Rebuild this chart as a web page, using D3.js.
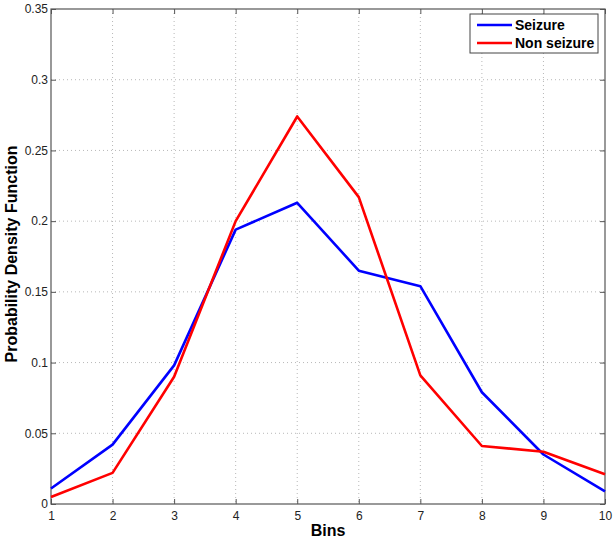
<!DOCTYPE html>
<html>
<head>
<meta charset="utf-8">
<script src="https://cdn.jsdelivr.net/npm/d3@7"></script>
<style>
body { margin: 0; background: #fff; }
text { font-family: "Liberation Sans", Arial, sans-serif; }
</style>
</head>
<body>
<div id="chart"></div>
<script>
// data
var bins = [1, 2, 3, 4, 5, 6, 7, 8, 9, 10];
var seizure = [0.011, 0.042, 0.098, 0.194, 0.213, 0.165, 0.154, 0.079, 0.035, 0.009];
var nonSeizure = [0.005, 0.022, 0.090, 0.200, 0.274, 0.217, 0.091, 0.041, 0.037, 0.021];
var yTicks = [0, 0.05, 0.1, 0.15, 0.2, 0.25, 0.3, 0.35];
var seriesNames = ["Seizure", "Non seizure"];
var seriesColors = ["#0000ff", "#ff0000"];

var svgWidth = 616, svgHeight = 541;
var margin = {top: 9, right: 11, bottom: 37, left: 51};
var chartWidth = svgWidth - margin.left - margin.right;
var chartHeight = svgHeight - margin.top - margin.bottom;

var svg = d3.select("#chart").append("svg")
  .attr("width", svgWidth)
  .attr("height", svgHeight);

var chartGroup = svg.append("g")
  .attr("transform", `translate(${margin.left}, ${margin.top})`);

var xScale = d3.scaleLinear().domain([1, 10]).range([0, chartWidth]);
var yScale = d3.scaleLinear().domain([0, 0.35]).range([chartHeight, 0]);

// grid
var grid = chartGroup.append("g").attr("stroke", "#b8b8b8").attr("stroke-dasharray", "1,3");
grid.selectAll(".vg").data(bins.slice(1, -1)).enter().append("line")
  .attr("x1", d => xScale(d)).attr("x2", d => xScale(d))
  .attr("y1", 0).attr("y2", chartHeight);
grid.selectAll(".hg").data(yTicks.slice(1, -1)).enter().append("line")
  .attr("x1", 0).attr("x2", chartWidth)
  .attr("y1", d => yScale(d)).attr("y2", d => yScale(d));

// axes with inward ticks
var axisColor = "#555";
function styleAxis(g) {
  g.select(".domain").remove();
  g.selectAll(".tick line").attr("stroke", axisColor);
  g.selectAll(".tick text").attr("fill", "#222").style("font-size", "12px").style("font-family", "Liberation Sans, Arial, sans-serif");
}
var fmt = d => d === 0 ? "0" : String(+d.toFixed(2));

chartGroup.append("g")
  .attr("transform", `translate(0, ${chartHeight})`)
  .call(d3.axisBottom(xScale).tickValues(bins).tickSize(-5).tickPadding(7).tickFormat(d3.format("d")))
  .call(styleAxis);
chartGroup.append("g")
  .call(d3.axisTop(xScale).tickValues(bins).tickSize(-5).tickFormat(""))
  .call(styleAxis);
chartGroup.append("g")
  .call(d3.axisLeft(yScale).tickValues(yTicks).tickSize(-5).tickPadding(3).tickFormat(fmt))
  .call(styleAxis);
chartGroup.append("g")
  .attr("transform", `translate(${chartWidth}, 0)`)
  .call(d3.axisRight(yScale).tickValues(yTicks).tickSize(-5).tickFormat(""))
  .call(styleAxis);

// frame
chartGroup.append("rect")
  .attr("width", chartWidth).attr("height", chartHeight)
  .attr("fill", "none").attr("stroke", axisColor).attr("stroke-width", 1.2);

// lines
var line = d3.line().x((d, i) => xScale(bins[i])).y(d => yScale(d));
[seizure, nonSeizure].forEach(function(s, k) {
  chartGroup.append("path")
    .datum(s)
    .attr("d", line)
    .attr("fill", "none")
    .attr("stroke", seriesColors[k])
    .attr("stroke-width", 2.6)
    .attr("stroke-linejoin", "round");
});

// axis labels
svg.append("text")
  .attr("x", margin.left + chartWidth / 2).attr("y", 536)
  .attr("text-anchor", "middle")
  .style("font-size", "16px").style("font-weight", "bold")
  .text("Bins");
svg.append("text")
  .attr("transform", `translate(17, 254) rotate(-90)`)
  .attr("text-anchor", "middle")
  .style("font-size", "16px").style("font-weight", "bold")
  .text("Probability Density Function");

// legend
var legend = svg.append("g").attr("transform", "translate(470, 14)");
legend.append("rect")
  .attr("width", 128).attr("height", 39)
  .attr("fill", "#fff").attr("stroke", "#444").attr("stroke-width", 1);
seriesNames.forEach(function(name, k) {
  var y = 11 + k * 18;
  legend.append("line")
    .attr("x1", 7).attr("x2", 42).attr("y1", y).attr("y2", y)
    .attr("stroke", seriesColors[k]).attr("stroke-width", 2.6);
  legend.append("text")
    .attr("x", 45).attr("y", y + 5)
    .style("font-size", "14px").style("font-weight", "bold")
    .text(name);
});
</script>
</body>
</html>
